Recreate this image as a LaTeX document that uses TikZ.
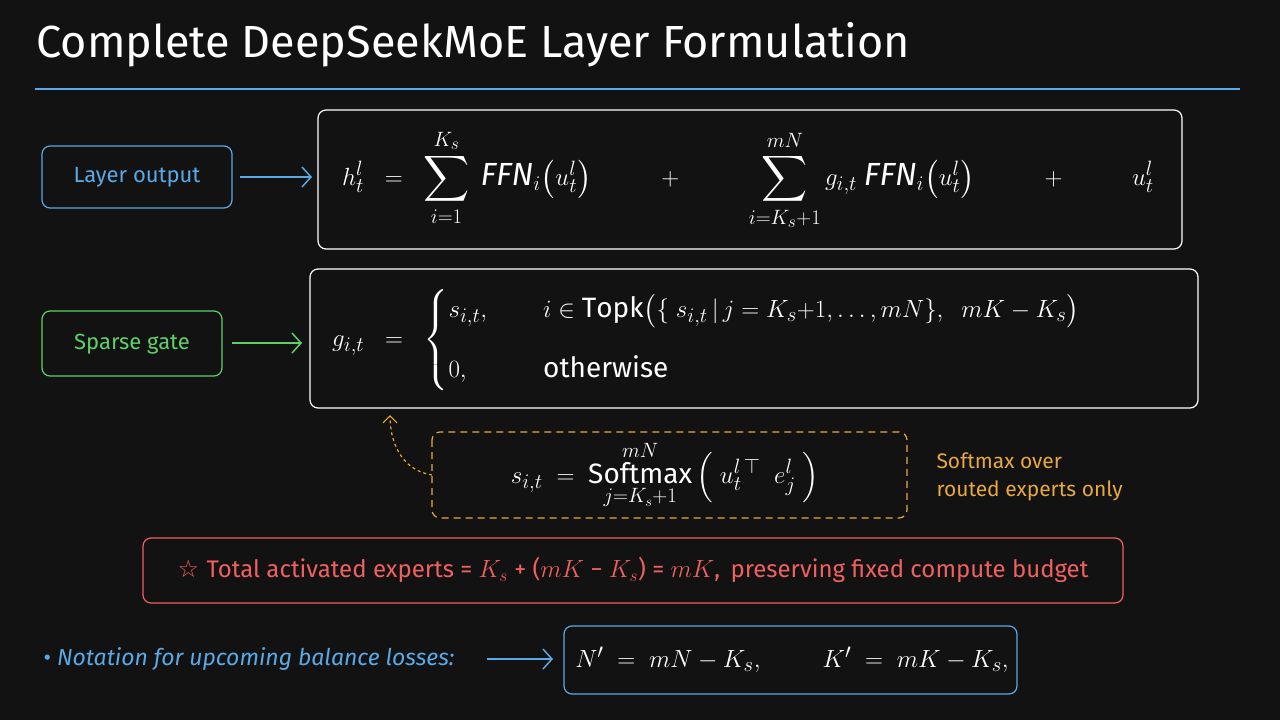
\documentclass[tikz,border=0pt]{standalone}
\usepackage{amsmath,amssymb}
\usepackage{fontspec}
\setmainfont{Fira Sans}
\usetikzlibrary{arrows.meta}
\definecolor{bg}{HTML}{121212}
\definecolor{cblue}{HTML}{5AA9E6}
\definecolor{cgreen}{HTML}{5FD068}
\definecolor{corange}{HTML}{E8A840}
\definecolor{cred}{HTML}{F06060}
\begin{document}
\begin{tikzpicture}[x=1pt,y=-1pt,
  box/.style={draw=#1,line width=1.2pt,rounded corners=8pt},
  lab/.style={text=#1,font=\fontsize{22}{26}\selectfont},
  arr/.style={draw=#1,line width=1.5pt,-{Straight Barb[length=9pt,width=20pt]}},
  eq/.style={text=white,font=\fontsize{32}{36}\selectfont,inner sep=0}]
\fill[bg] (0,0) rectangle (1280,720);
\useasboundingbox (0,0) rectangle (1280,720);
\node[anchor=west,text=white,font=\fontsize{45}{50}\selectfont] (title) at (33,45) {Complete DeepSeekMoE Layer Formulation};
\draw[cblue,line width=1.5pt] (35,89) coordinate (l1) -- (1240,89) coordinate (l2);

% row 1
\draw[box=cblue] (42,146) rectangle (232,208);
\node[lab=cblue] (lo) at (137,177) {Layer output};
\coordinate (a1s) at (240,177); \coordinate (a1e) at (312,177);
\draw[arr=cblue] (a1s) -- (a1e);
\draw[box=white] (318,110) rectangle (1182,249);
\node[eq] (e1) at (748,180) {$\displaystyle h_t^l \;\;=\;\; \sum_{i=1}^{K_s} \;\mathit{FFN}_i\big(u_t^l\big) \qquad+\qquad \sum_{i=K_s+1}^{mN} g_{i,t}\;\mathit{FFN}_i\big(u_t^l\big) \qquad+\qquad u_t^l$};

% row 2
\draw[box=cgreen] (42,311) rectangle (222,376);
\node[lab=cgreen] (sg) at (132,344) {Sparse gate};
\coordinate (a2s) at (232,343); \coordinate (a2e) at (302,343);
\draw[arr=cgreen] (a2s) -- (a2e);
\draw[box=white] (310,269) rectangle (1198,408);
\node[eq,anchor=west,font=\fontsize{28}{32}\selectfont] (e2) at (332,340) {$g_{i,t}\;\;=\;\;\begin{cases} s_{i,t}, & \quad i\in\mathrm{Topk}\big(\{\;s_{i,t}\,|\,j=K_s{+}1,\ldots,mN\},\;\; mK-K_s\big)\\[22pt] 0, & \quad\text{otherwise}\end{cases}$};

% softmax
\draw[box=corange,dashed,dash pattern=on 7pt off 5pt] (432,432) rectangle (907,518);
\node[eq,font=\fontsize{28}{32}\selectfont] (e3) at (665,475) {$\displaystyle s_{i,t}\;=\;\operatorname*{Softmax}_{j=K_s+1}^{mN}\Big(\;u_t^{l\,\top}\;\; e_j^l\;\Big)$};
\coordinate (c1) at (432,475); \coordinate (c2) at (390,415);
\draw[corange,line width=1.2pt,dashed,-{Straight Barb[length=7pt,width=14pt]}] (c1) .. controls (400,470) and (390,440) .. (c2);
\node[text=corange,font=\fontsize{21}{28}\selectfont,align=left,anchor=west] (note) at (933,477) {Softmax over\\routed experts only};

% red
\draw[box=cred] (143,538) rectangle (1123,603);
\node[text=cred,font=\fontsize{24}{28}\selectfont] (tot) at (633,570) {\fontspec{DejaVu Sans}☆\ \fontspec{Fira Sans}Total activated experts = $K_s$ + ($mK$ − $K_s$) = $mK$,\, preserving fixed compute budget};

% bottom
\node[text=cblue,font=\fontsize{23}{26}\selectfont,anchor=west] (nt) at (40,659) {•\ \textit{Notation for upcoming balance losses:}};
\coordinate (a3s) at (487,659); \coordinate (a3e) at (553,659);
\draw[arr=cblue] (a3s) -- (a3e);
\draw[box=cblue] (564,626) rectangle (1017,694);
\node[eq,font=\fontsize{29}{32}\selectfont] (e4) at (792,660) {$N' \;=\; mN - K_s, \qquad K' \;=\; mK - K_s,$};
\end{tikzpicture}
\end{document}
